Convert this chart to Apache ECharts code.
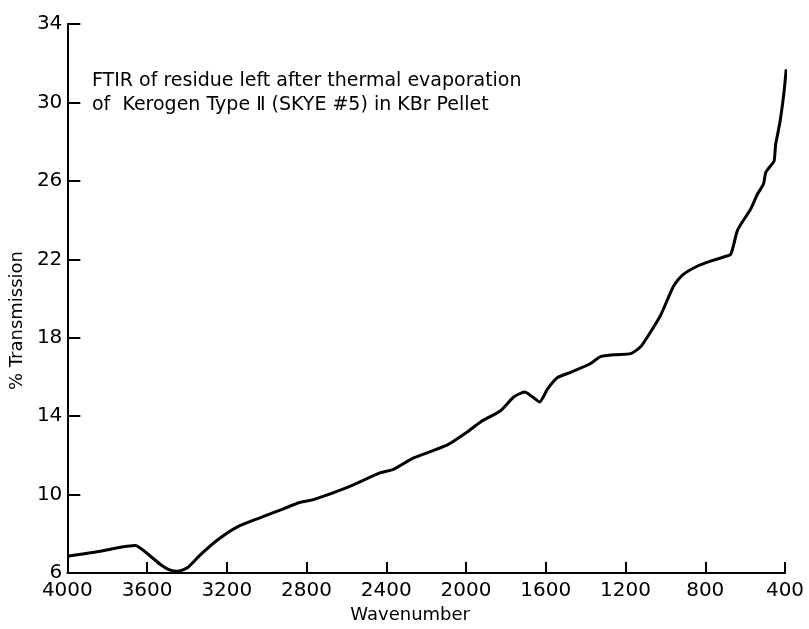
<!DOCTYPE html>
<html>
<head>
<meta charset="utf-8">
<script src="https://cdn.jsdelivr.net/npm/echarts@6/dist/echarts.min.js"></script>
<style>html,body{margin:0;padding:0;background:#fff}#c{width:809px;height:629px}</style>
</head>
<body>
<div id="c"></div>
<script>
const wavenumber = [4000,3834,3734,3659,3583,3533,3483,3443,3398,3332,3247,3147,3031,2916,2831,2765,2595,2429,2364,2263,2093,1992,1927,1827,1761,1706,1666,1631,1591,1541,1475,1375,1325,1250,1174,1124,1084,1024,958,913,838,773,707,672,637,572,538,508,497,480,455,447,425,405,394];
const transmission = [6.86,7.11,7.32,7.41,6.86,6.44,6.15,6.10,6.27,6.94,7.69,8.36,8.83,9.28,9.61,9.75,10.37,11.12,11.29,11.87,12.54,13.21,13.71,14.28,14.98,15.23,14.98,14.73,15.39,15.97,16.24,16.69,17.04,17.14,17.19,17.54,18.14,19.15,20.65,21.21,21.66,21.91,22.12,22.26,23.51,24.57,25.33,25.84,26.42,26.67,27.01,27.84,29.02,30.52,31.69];
const xTicks = [4000,3600,3200,2800,2400,2000,1600,1200,800,400];
const yTicks = [6,10,14,18,22,26,30,34];
const xTitle = 'Wavenumber';
const yTitle = '% Transmission';
const noteLines = ['FTIR of residue left after thermal evaporation', 'of  Kerogen Type \u2161 (SKYE #5) in KBr Pellet'];

const FONT = 'DejaVu Sans';
const chart = echarts.init(document.getElementById('c'), null, {renderer: 'canvas'});
chart.setOption({
  backgroundColor: '#fff',
  animation: false,
  grid: {left: 67, right: 24, top: 24, bottom: 47},
  xAxis: {
    type: 'value', inverse: true,
    min: xTicks[xTicks.length - 1], max: xTicks[0], interval: 400,
    name: xTitle, nameLocation: 'middle', nameGap: 30,
    nameTextStyle: {fontFamily: FONT, fontSize: 18, color: '#000', padding: [0, 32, 0, 0]},
    axisLine: {lineStyle: {color: '#000', width: 2}},
    axisTick: {inside: true, length: 11, lineStyle: {color: '#000', width: 2}},
    axisLabel: {fontFamily: FONT, fontSize: 20, color: '#000', margin: 8, formatter: v => String(v)},
    splitLine: {show: false}
  },
  yAxis: {
    type: 'value', min: yTicks[0], max: yTicks[yTicks.length - 1], interval: 4,
    name: yTitle, nameLocation: 'middle', nameGap: 35,
    nameTextStyle: {fontFamily: FONT, fontSize: 18, color: '#000', padding: [0, 0, 0, -44]},
    axisLine: {show: true, lineStyle: {color: '#000', width: 2}},
    axisTick: {show: true, inside: true, length: 13, lineStyle: {color: '#000', width: 2}},
    axisLabel: {fontFamily: FONT, fontSize: 20, color: '#000', margin: 5, formatter: v => String(v)},
    splitLine: {show: false}
  },
  graphic: [{
    type: 'text', left: 92, top: 69,
    style: {text: noteLines.join('\n'), font: '19px "' + FONT + '"', fill: '#000', lineHeight: 24}
  }],
  series: [{
    type: 'line', clip: false, smooth: 0.2, symbol: 'none',
    lineStyle: {color: '#000', width: 3},
    data: wavenumber.map((w, i) => [w, transmission[i]])
  }]
});
</script>
</body>
</html>
